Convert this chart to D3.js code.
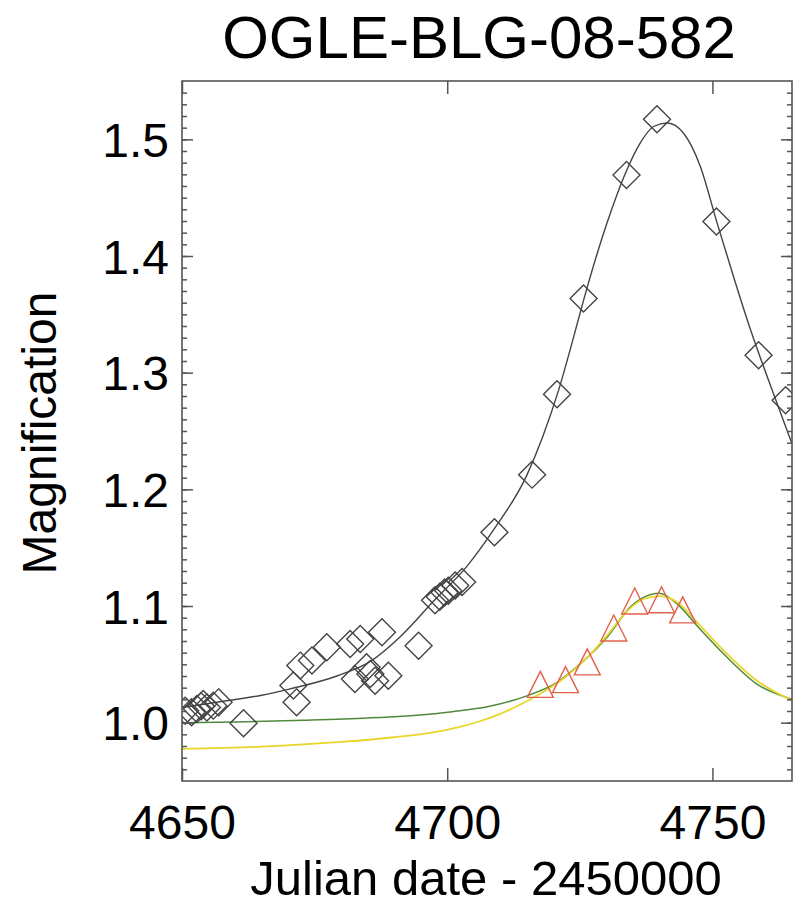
<!DOCTYPE html>
<html>
<head>
<meta charset="utf-8">
<script src="https://cdn.jsdelivr.net/npm/d3@7"></script>
<style>
  html, body { margin: 0; padding: 0; background: #ffffff; }
  svg { display: block; }
  text { font-family: "Liberation Sans", Arial, Helvetica, sans-serif; fill: #000; }
</style>
</head>
<body>
<svg id="chart" width="801" height="907"></svg>
<script>
// ---------------- DATA ----------------
const titleText = "OGLE-BLG-08-582";
const xLabelText = "Julian date - 2450000";
const yLabelText = "Magnification";

const xDomain = [4650, 4765];
const yDomain = [0.95, 1.55];
const xMajorTicks = [4650, 4700, 4750];
const yMajorTicks = [1.0, 1.1, 1.2, 1.3, 1.4, 1.5];
const yMinorTicks = d3.range(96, 155).map(v => v / 100);

// OGLE data (diamonds)
const ogleT = [4650.6, 4651.8, 4652.8, 4653.6, 4654.0, 4654.7, 4655.9, 4656.9,
               4661.6,
               4671.0, 4671.6, 4672.3, 4674.5, 4677.3, 4681.7, 4683.6, 4687.7,
               4682.6, 4684.8, 4685.5, 4686.4, 4688.9, 4694.6,
               4697.7, 4698.6, 4699.5, 4700.2, 4701.5, 4702.8,
               4708.9, 4716.0, 4720.7, 4725.7, 4733.8, 4739.55, 4750.75, 4758.7, 4763.8];
const ogleA = [1.0103, 1.0089, 1.0117, 1.0140, 1.0160, 1.0130, 1.0146, 1.0174,
               0.9995,
               1.0318, 1.0174, 1.0489, 1.0532, 1.0646, 1.0675, 1.0718, 1.0775,
               1.0375, 1.0475, 1.0418, 1.0360, 1.0403, 1.0660,
               1.1050, 1.1080, 1.1115, 1.1130, 1.1176, 1.1205,
               1.1633, 1.2126, 1.2815, 1.3635, 1.4695, 1.5173, 1.4295, 1.3150, 1.2764];

// Second data set (triangles)
const triT = [4717.55, 4722.3, 4726.4, 4731.4, 4735.35, 4740.4, 4744.4];
const triA = [1.0328, 1.0369, 1.0521, 1.0811, 1.1043, 1.1054, 1.0967];

// Model curves
const blackT = [4650.0, 4658.7, 4665.0, 4670.4, 4679.2, 4685.5, 4691.1, 4697.4, 4703.7, 4708.7,
                4715.0, 4718.0, 4721.0, 4723.8, 4725.7, 4730.1, 4733.6, 4736.4, 4738.9,
                4741.5, 4744.6, 4747.7, 4750.9, 4754.0, 4757.2, 4762.0, 4765.0];
const blackA = [1.013, 1.019, 1.0235, 1.029, 1.040, 1.0525, 1.0735, 1.1040, 1.1340, 1.165,
                1.212, 1.245, 1.285, 1.330, 1.362, 1.428, 1.471, 1.497, 1.511,
                1.514, 1.505, 1.477, 1.428, 1.382, 1.3365, 1.276, 1.239];

const greenT = [4650, 4660, 4673, 4685, 4697, 4701, 4708, 4715, 4720.7, 4725.7,
                4730.1, 4734.5, 4738.5, 4740, 4743.3, 4747.1, 4752.1, 4758.4, 4765];
const greenA = [1.000, 1.0005, 1.002, 1.004, 1.0075, 1.0094, 1.0140, 1.0230, 1.0346, 1.053,
                1.073, 1.099, 1.110, 1.111, 1.102, 1.083, 1.059, 1.033, 1.020];

const yellowT = [4650, 4665, 4680, 4690, 4697, 4702, 4706, 4710, 4714, 4718, 4722, 4726,
                 4730, 4734, 4737, 4740, 4743.3, 4747.1, 4752.1, 4758.4, 4765];
const yellowA = [0.9775, 0.9795, 0.9835, 0.9875, 0.9915, 0.9960, 1.0010, 1.0075, 1.0160, 1.0260,
                 1.0380, 1.0540, 1.0740, 1.0960, 1.1060, 1.1085, 1.1035, 1.0860, 1.0620, 1.0360, 1.0190];

// ---------------- CHART ----------------
const svg = d3.select("#chart");
const L = 182, R = 792, T = 81, B = 781;
const x = d3.scaleLinear().domain(xDomain).range([L, R]);
const y = d3.scaleLinear().domain(yDomain).range([B, T]);

const frameColor = "#555";

svg.append("defs").append("clipPath").attr("id", "plotclip")
  .append("rect").attr("x", L).attr("y", T).attr("width", R - L).attr("height", B - T);

const zip = (a, b) => a.map((v, i) => [v, b[i]]);

const plot = svg.append("g").attr("clip-path", "url(#plotclip)");

const line = d3.line().x(d => x(d[0])).y(d => y(d[1])).curve(d3.curveMonotoneX);

plot.append("path").datum(zip(greenT, greenA))
  .attr("d", line).attr("fill", "none").attr("stroke", "#4f8a3c").attr("stroke-width", 1.5);
plot.append("path").datum(zip(yellowT, yellowA))
  .attr("d", line).attr("fill", "none").attr("stroke", "#e8d62a").attr("stroke-width", 1.8);
plot.append("path").datum(zip(blackT, blackA))
  .attr("d", line).attr("fill", "none").attr("stroke", "#444").attr("stroke-width", 1.4);

const diamondType = { draw(ctx, size) { const r = Math.sqrt(size);
  ctx.moveTo(0, -r); ctx.lineTo(r, 0); ctx.lineTo(0, r); ctx.lineTo(-r, 0); ctx.closePath(); } };
const triType = { draw(ctx, size) { const r = Math.sqrt(size);
  ctx.moveTo(0, -r); ctx.lineTo(r, r); ctx.lineTo(-r, r); ctx.closePath(); } };

plot.append("g").selectAll("path").data(zip(ogleT, ogleA)).join("path")
  .attr("transform", d => `translate(${x(d[0])},${y(d[1])})`)
  .attr("d", d3.symbol().type(diamondType).size(13.5 * 13.5))
  .attr("fill", "none").attr("stroke", "#444").attr("stroke-width", 1.4);

plot.append("g").selectAll("path").data(zip(triT, triA)).join("path")
  .attr("transform", d => `translate(${x(d[0])},${y(d[1])})`)
  .attr("d", d3.symbol().type(triType).size(13 * 13))
  .attr("fill", "none").attr("stroke", "#e2604c").attr("stroke-width", 1.4);

// Axes
function styleAxis(g) {
  g.select(".domain").remove();
  g.selectAll(".tick line").attr("stroke", frameColor).attr("stroke-width", 1.5);
  g.selectAll("text").attr("font-size", 48).attr("font-family", "Liberation Sans, Arial, sans-serif").attr("fill", "#000");
}

// left major
svg.append("g").attr("transform", `translate(${L},0)`)
  .call(d3.axisLeft(y).tickValues(yMajorTicks).tickSize(-11).tickPadding(13).tickFormat(d3.format(".1f")))
  .call(styleAxis)
  .call(g => g.selectAll("text").attr("dy", "0.36em"));
// left minor
svg.append("g").attr("transform", `translate(${L},0)`)
  .call(d3.axisLeft(y).tickValues(yMinorTicks).tickSize(-5).tickFormat(""))
  .call(styleAxis);
// right major + minor
svg.append("g").attr("transform", `translate(${R},0)`)
  .call(d3.axisRight(y).tickValues(yMajorTicks).tickSize(-11).tickFormat(""))
  .call(styleAxis);
svg.append("g").attr("transform", `translate(${R},0)`)
  .call(d3.axisRight(y).tickValues(yMinorTicks).tickSize(-5).tickFormat(""))
  .call(styleAxis);
// bottom
svg.append("g").attr("transform", `translate(0,${B})`)
  .call(d3.axisBottom(x).tickValues(xMajorTicks).tickSize(-13).tickPadding(24).tickFormat(d3.format("d")))
  .call(styleAxis);
// top
svg.append("g").attr("transform", `translate(0,${T})`)
  .call(d3.axisTop(x).tickValues(xMajorTicks).tickSize(-13).tickFormat(""))
  .call(styleAxis);

// frame
svg.append("rect").attr("x", L).attr("y", T).attr("width", R - L).attr("height", B - T)
  .attr("fill", "none").attr("stroke", frameColor).attr("stroke-width", 1.6);

// Titles
svg.append("text").attr("x", 479).attr("y", 58).attr("text-anchor", "middle")
  .attr("font-size", 60).text(titleText);
svg.append("text").attr("x", 486).attr("y", 895).attr("text-anchor", "middle")
  .attr("font-size", 49).text(xLabelText);
svg.append("text").attr("transform", "translate(56,433) rotate(-90)").attr("text-anchor", "middle")
  .attr("font-size", 48).text(yLabelText);
</script>
</body>
</html>
